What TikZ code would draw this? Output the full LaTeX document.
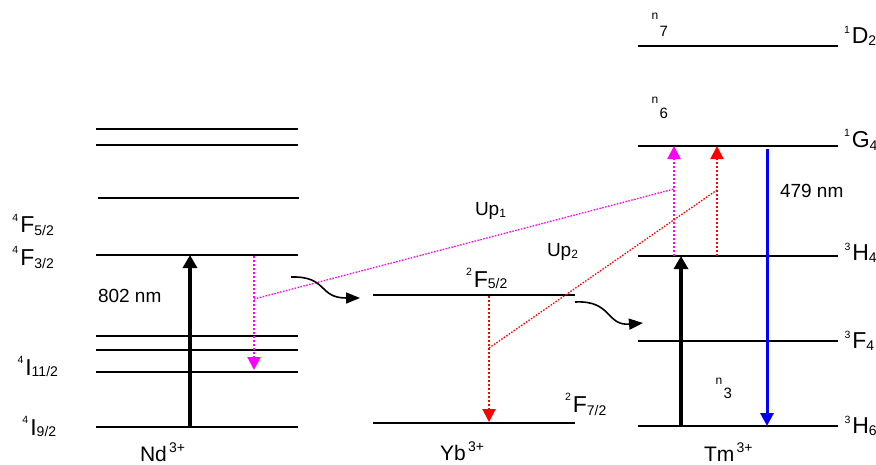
\documentclass[tikz,border=0pt]{standalone}
\usepackage{fontspec}
\setmainfont{Liberation Sans}
\usetikzlibrary{arrows.meta}
\newcommand\fs[1]{\fontsize{#1}{#1}\selectfont}
% sup, main, sub, raise, lower
\newcommand\trm[5]{\raisebox{#4pt}{\fs{10.5}#1}\kern2pt{\fs{23}#2}\raisebox{-#5pt}{\fs{14}#3}}
\newcommand\ion[2]{{\fs{21}#1}\raisebox{9pt}{\fs{14}\,#2}}
\newcommand\nlab[2]{\raisebox{#2pt}{\fs{12}n}\kern1.5pt{\fs{15}#1}}
\begin{document}
\begin{tikzpicture}[x=1pt,y=-1pt,
  level/.style={line width=1.6pt},
  lab/.style={anchor=base west, inner sep=0pt, outer sep=0pt},
  pump/.style={line width=4pt, -{Triangle[width=14pt,length=13pt]}},
  mdot/.style={draw={rgb,255:red,255;green,0;blue,255}, line width=2pt, dash pattern=on 2pt off 2pt, -{Triangle[width=13pt,length=13pt]}},
  rdot/.style={draw={rgb,255:red,255;green,0;blue,0}, line width=2pt, dash pattern=on 2pt off 2pt, -{Triangle[width=13pt,length=13pt]}},
  mthin/.style={draw={rgb,255:red,255;green,0;blue,255}, line width=1.3pt, dash pattern=on 1.5pt off 1.5pt},
  rthin/.style={draw={rgb,255:red,255;green,0;blue,0}, line width=1.3pt, dash pattern=on 1.5pt off 1.5pt},
  emis/.style={draw={rgb,255:red,0;green,0;blue,255}, line width=3pt, -{Triangle[width=13pt,length=13pt]}},
  transfer/.style={line width=1.6pt, -{Triangle[width=11pt,length=14pt]}}
]
\useasboundingbox (0,0) rectangle (876,464);
\fill[white] (0,0) rectangle (876,464);

% Nd levels
\foreach \y in {129,145,255,336,350,372,427} \draw[level] (96,\y) -- (298,\y);
\draw[level] (98,198) -- (299,198);
% Yb levels
\draw[level] (373,295) -- (575,295);
\draw[level] (373,423) -- (575,423);
% Tm levels
\foreach \y in {46,146,256,341,426} \draw[level] (638,\y) -- (838,\y);

% coordinates
\coordinate (ndG) at (190,427); \coordinate (ndF) at (190,255);
\coordinate (ndM1) at (254,256); \coordinate (ndM2) at (254,370); \coordinate (ndMx) at (254,299);
\coordinate (tmM1) at (674,256); \coordinate (tmM2) at (674,146); \coordinate (tmMx) at (674,189);
\coordinate (tmR1) at (717,256); \coordinate (tmR2) at (717,146); \coordinate (tmRx) at (717,190);
\coordinate (ybR1) at (489,296); \coordinate (ybR2) at (489,422); \coordinate (ybRx) at (489,348);
\coordinate (tmG) at (681,426); \coordinate (tmH) at (681,256);
\coordinate (tmB1) at (767,149); \coordinate (tmB2) at (767,426);
\coordinate (c1s) at (291,277); \coordinate (c1e) at (360,298);
\coordinate (c2s) at (575,302); \coordinate (c2e) at (643,323);

% arrows
\draw[pump] (ndG) -- (ndF);
\draw[pump] (tmG) -- (tmH);
\draw[mdot] (ndM1) -- (ndM2);
\draw[mthin] (ndMx) -- (tmMx);
\draw[mdot] (tmM1) -- (tmM2);
\draw[rdot] (ybR1) -- (ybR2);
\draw[rthin] (ybRx) -- (tmRx);
\draw[rdot] (tmR1) -- (tmR2);
\draw[emis] (tmB1) -- (tmB2);
\draw[transfer] (c1s) .. controls (328,276) and (318,298) .. (c1e);
\draw[transfer] (c2s) .. controls (612,300) and (606,326) .. (c2e);

% labels
\node[lab] (l1) at (12.5,232) {\trm{4}{F}{5/2}{11}{3.5}};
\node[lab] (l2) at (12.5,265) {\trm{4}{F}{3/2}{12}{3.5}};
\node[lab] (l3) at (17.5,375) {\trm{4}{I}{11/2}{12}{1}};
\node[lab] (l4) at (22.5,435) {\trm{4}{I}{9/2}{12}{1}};
\node[lab] (l5) at (98,302) {\fs{19}802 nm};
\node[lab] (l6) at (140,461) {\ion{Nd}{3+}};
\node[lab] (l7) at (440,460) {\ion{Yb}{3+}};
\node[lab] (l8) at (704,461) {\ion{Tm}{3+}};
\node[lab] (l9) at (475,215) {{\fs{19}Up}\raisebox{-2pt}{\fs{12}1}};
\node[lab] (l10) at (547,256) {{\fs{19}Up}\raisebox{-2pt}{\fs{12}2}};
\node[lab] (l11) at (466,287) {\trm{2}{F}{5/2}{12}{1}};
\node[lab] (l12) at (565,412) {\trm{2}{F}{7/2}{12}{3}};
\node[lab] (l13) at (844,43) {\trm{1}{D}{2}{10}{2}};
\node[lab] (l14) at (844,147) {\trm{1}{G}{4}{11}{3}};
\node[lab] (l15) at (844.5,260) {\trm{3}{H}{4}{10}{2}};
\node[lab] (l16) at (844.5,348) {\trm{3}{F}{4}{10}{2}};
\node[lab] (l17) at (844.5,433) {\trm{3}{H}{6}{10}{2}};
\node[lab] (l18) at (780,197) {\fs{19}479 nm};
\node[lab] (l19) at (651.5,36) {\nlab{7}{17}};
\node[lab] (l20) at (651.5,118) {\nlab{6}{15}};
\node[lab] (l21) at (715.5,398) {\nlab{3}{14}};
\end{tikzpicture}
\end{document}
